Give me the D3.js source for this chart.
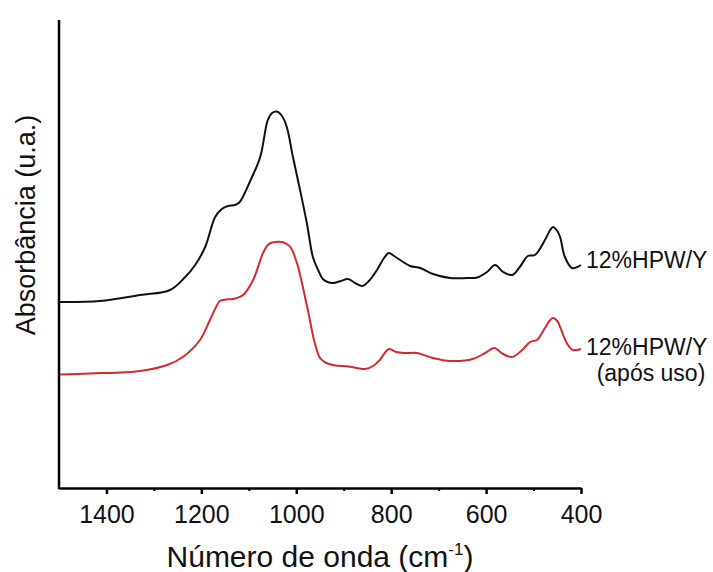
<!DOCTYPE html>
<html>
<head>
<meta charset="utf-8">
<script src="https://cdn.jsdelivr.net/npm/d3@7"></script>
<style>
  body { margin: 0; background: #fff; }
  svg { display: block; font-family: 'Liberation Sans', Arial, sans-serif; }
</style>
</head>
<body>
<div class="renderer"></div>
<script>
const width = 713
const height = 572

// wavenumbers (cm-1) sampled along both spectra
const wnBlack = [1500, 1414, 1329, 1266, 1234, 1213, 1192, 1171, 1157, 1144, 1129, 1119, 1098, 1076, 1060, 1051, 1041, 1030, 1020, 1007, 992, 977, 965, 954, 944, 934, 923, 906, 891, 876, 861, 847, 830, 815, 805, 794, 781, 760, 739, 712, 676, 640, 619, 598, 581, 564, 545, 529, 512, 497, 476, 465, 459, 450, 444, 434, 419, 408, 400]
const absBlack = [1.86, 1.87, 1.93, 1.98, 2.11, 2.23, 2.41, 2.71, 2.79, 2.82, 2.83, 2.86, 3.06, 3.31, 3.68, 3.75, 3.765, 3.72, 3.61, 3.31, 2.98, 2.63, 2.31, 2.18, 2.09, 2.06, 2.05, 2.07, 2.09, 2.05, 2.02, 2.07, 2.18, 2.30, 2.35, 2.32, 2.28, 2.22, 2.20, 2.14, 2.10, 2.10, 2.105, 2.16, 2.23, 2.16, 2.13, 2.21, 2.32, 2.33, 2.48, 2.58, 2.61, 2.57, 2.51, 2.31, 2.20, 2.21, 2.23]

const wnRed = [1500, 1435, 1329, 1272, 1239, 1203, 1182, 1169, 1161, 1148, 1133, 1112, 1091, 1070, 1060, 1051, 1030, 1020, 1011, 998, 977, 961, 950, 937, 923, 891, 872, 855, 838, 824, 805, 790, 771, 746, 712, 676, 628, 602, 583, 564, 545, 524, 507, 493, 476, 465, 459, 450, 444, 430, 417, 400]
const absRed = [1.135, 1.145, 1.17, 1.23, 1.31, 1.48, 1.68, 1.81, 1.87, 1.885, 1.89, 1.93, 2.08, 2.35, 2.43, 2.455, 2.46, 2.44, 2.40, 2.24, 1.81, 1.45, 1.30, 1.25, 1.23, 1.215, 1.20, 1.19, 1.22, 1.28, 1.39, 1.36, 1.35, 1.35, 1.30, 1.27, 1.29, 1.35, 1.40, 1.34, 1.31, 1.38, 1.46, 1.48, 1.60, 1.68, 1.70, 1.67, 1.61, 1.45, 1.38, 1.39]

const majorTicks = [1400, 1200, 1000, 800, 600, 400]
const minorTicks = [1300, 1100, 900, 700, 500]
const seriesNames = ['12%HPW/Y', '12%HPW/Y']
const seriesNote = '(após uso)'

const svg = d3
  .select('.renderer')
  .append('svg')
  .attr('width', width)
  .attr('height', height)

const x = d3.scaleLinear().domain([1500, 400]).range([59, 581])
const y = d3.scaleLinear().domain([0, 4.68]).range([488, 20])

const line = d3
  .line()
  .x(d => x(d[0]))
  .y(d => y(d[1]))
  .curve(d3.curveCatmullRom.alpha(0.5))

svg
  .append('path')
  .datum(d3.zip(wnBlack, absBlack))
  .attr('d', line)
  .attr('fill', 'none')
  .attr('stroke', '#111')
  .attr('stroke-width', 2)

svg
  .append('path')
  .datum(d3.zip(wnRed, absRed))
  .attr('d', line)
  .attr('fill', 'none')
  .attr('stroke', '#d42a2a')
  .attr('stroke-width', 2)

// axes
const gx = svg
  .append('g')
  .attr('transform', `translate(0,${y(0)})`)
  .call(
    d3
      .axisBottom(x)
      .tickValues(majorTicks)
      .tickFormat(d3.format('d'))
      .tickSize(6)
      .tickSizeOuter(0)
      .tickPadding(11)
  )
gx.select('.domain').attr('stroke-width', 2.5)
gx.selectAll('.tick line').attr('stroke-width', 2.5)
gx.selectAll('.tick text')
  .attr('font-size', 25)
  .attr('fill', '#111')
  .attr('font-family', "'Liberation Sans', Arial, sans-serif")

const gm = svg
  .append('g')
  .attr('transform', `translate(0,${y(0)})`)
  .call(d3.axisBottom(x).tickValues(minorTicks).tickSize(3).tickFormat(''))
gm.select('.domain').remove()
gm.selectAll('.tick line').attr('stroke-width', 2)

svg
  .append('line')
  .attr('x1', x(1500))
  .attr('x2', x(1500))
  .attr('y1', y(4.68))
  .attr('y2', y(0) + 1.25)
  .attr('stroke', '#000')
  .attr('stroke-width', 2.5)

// axis titles
const xt = svg
  .append('text')
  .attr('x', 320)
  .attr('y', 567)
  .attr('text-anchor', 'middle')
  .attr('font-size', 30)
  .attr('fill', '#111')
xt.append('tspan').text('Número de onda (cm')
xt.append('tspan').attr('font-size', 17).attr('dy', -12).text('-1')
xt.append('tspan').attr('dy', 12).text(')')

svg
  .append('text')
  .attr('transform', 'translate(35,225) rotate(-90)')
  .attr('text-anchor', 'middle')
  .attr('font-size', 27)
  .attr('fill', '#111')
  .text('Absorbância (u.a.)')

// series labels
svg
  .append('text')
  .attr('x', 586)
  .attr('y', 268)
  .attr('font-size', 23)
  .attr('fill', '#111')
  .text(seriesNames[0])

svg
  .append('text')
  .attr('x', 586)
  .attr('y', 355)
  .attr('font-size', 23)
  .attr('fill', '#111')
  .text(seriesNames[1])

svg
  .append('text')
  .attr('x', 651)
  .attr('y', 381)
  .attr('text-anchor', 'middle')
  .attr('font-size', 23)
  .attr('fill', '#111')
  .text(seriesNote)
</script>
</body>
</html>
